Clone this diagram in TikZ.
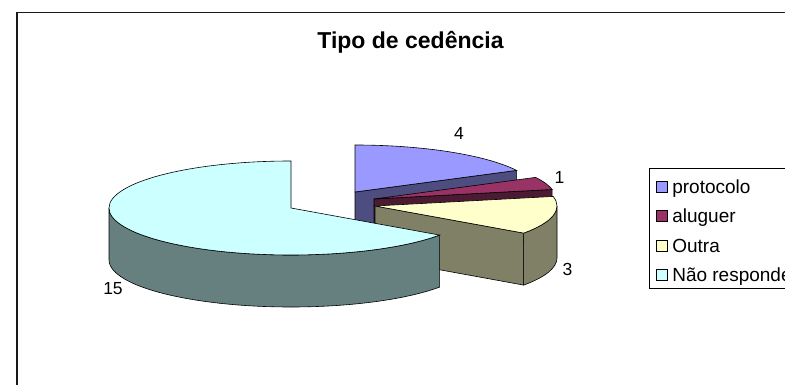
\documentclass[tikz,border=0pt]{standalone}
\usepackage{fontspec}
\setmainfont{Liberation Sans}
\definecolor{protoTop}{HTML}{9999FF}
\definecolor{protoSide}{HTML}{4D4D80}
\definecolor{alugTop}{HTML}{993366}
\definecolor{alugSide}{HTML}{4D1A33}
\definecolor{outraTop}{HTML}{FFFFCC}
\definecolor{outraSide}{HTML}{808066}
\definecolor{naoTop}{HTML}{CCFFFF}
\definecolor{naoSide}{HTML}{668080}
% top of a slice: centre x, centre y, start angle, end angle, colour
\newcommand{\slicetop}[5]{\filldraw[fill=#5,shift={(#1,#2)}] (0,0) -- (#3:182 and 47) arc[start angle=#3,end angle=#4,x radius=182,y radius=47] -- cycle;}
% flat cut face of a slice
\newcommand{\slicecut}[4]{\filldraw[fill=#4,shift={(#1,#2)}] (0,0) -- (#3:182 and 47) -- ++(0,-52) -- (0,-52) -- cycle;}
% curved outer face of a slice
\newcommand{\slicerim}[5]{\filldraw[fill=#5,shift={(#1,#2)}] (#3:182 and 47) arc[start angle=#3,end angle=#4,x radius=182,y radius=47] -- ++(0,-52) arc[start angle=#4,end angle=#3,x radius=182,y radius=47] -- cycle;}

\begin{document}
\begin{tikzpicture}[x=1pt,y=1pt,line width=0.6pt,
		keybox/.style={draw,line width=0.7pt,minimum size=11pt,inner sep=0pt},
		datalbl/.style={font=\fontsize{17.5}{20}\selectfont,inner sep=0pt}]
			\useasboundingbox (0,0) rectangle (785,-385);
			\draw[line width=1.3pt,black!90] (17,-400) -- (17,-12.5) -- (800,-12.5);
			\node[font=\bfseries\fontsize{23}{27}\selectfont,anchor=base] (title) at (410.5,-49) {Tipo de cedência};
			% protocolo
			\slicecut{355}{-192}{27.391}{protoSide};
			\slicetop{355}{-192}{27.391}{90}{protoTop};
			% aluguer
			\slicecut{374}{-199}{11.739}{alugSide};
			\slicetop{374}{-199}{11.739}{27.391}{alugTop};
			% Outra
			\slicecut{375}{-206}{-35.217}{outraSide};
			\slicerim{375}{-206}{-35.217}{0}{outraSide};
			\slicetop{375}{-206}{-35.217}{11.739}{outraTop};
			% Nao responde
			\slicerim{291}{-208}{180}{324.783}{naoSide};
			\slicetop{291}{-208}{90}{324.783}{naoTop};
			% values
			\node[datalbl] (v4) at (459,-133) {4};
			\node[datalbl] (v1) at (559.5,-177.5) {1};
			\node[datalbl] (v3) at (567.5,-269.5) {3};
			\node[datalbl] (v15) at (113,-289) {15};
			% legend
			\draw[line width=0.8pt] (800,-168) -- (649,-168) -- (649,-288) -- (800,-288);
			\foreach \txt/\col [count=\i] in {protocolo/protoTop,aluguer/alugTop,Outra/outraTop,Não responde/naoTop} {
				\node[keybox,fill=\col] (key\i) at (661.5,{-187-29.3*(\i-1)}) {};
				\node[anchor=base west,inner sep=0pt,font=\fontsize{19}{22}\selectfont] (leg\i) at (672,{-193.5-29.3*(\i-1)}) {\txt};
			}
		\end{tikzpicture}
\end{document}
